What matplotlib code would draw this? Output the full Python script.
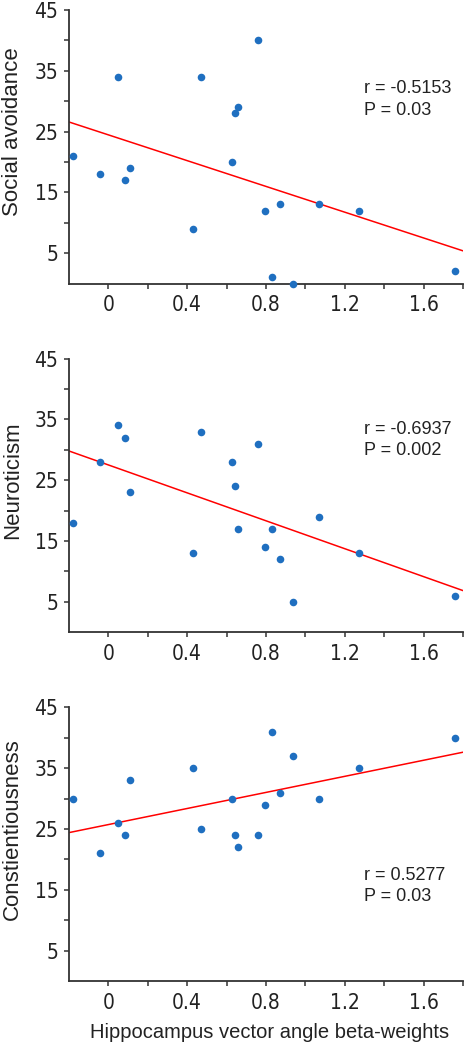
import numpy as np
import matplotlib
matplotlib.use("Agg")
import matplotlib.pyplot as plt
from matplotlib import font_manager

# hippocampus vector angle beta-weights (same subjects in every panel)
beta = [-0.178, -0.041, 0.051, 0.083, 0.112, 0.430, 0.469, 0.626, 0.642,
        0.659, 0.760, 0.796, 0.830, 0.872, 0.936, 1.068, 1.272, 1.761]
social = [21, 18, 34, 17, 19, 9, 34, 20, 28, 29, 40, 12, 1, 13, 0, 13, 12, 2]
neuro = [18, 28, 34, 32, 23, 13, 33, 28, 24, 17, 31, 14, 17, 12, 5, 19, 13, 6]
consc = [30, 21, 26, 24, 33, 35, 25, 30, 24, 22, 24, 29, 41, 31, 37, 30, 35, 40]

ylabels = ["Social avoidance", "Neuroticism", "Constientiousness"]
stats = ["r = -0.5153\nP = 0.03", "r = -0.6937\nP = 0.002", "r = 0.5277\nP = 0.03"]
stat_y = [30.3, 31.6, 15.6]

# pick an upright narrow face for the tick numbers if one is around
narrow = None
for f in font_manager.fontManager.ttflist:
    if f.style != "normal" or f.weight not in (400, "normal", "regular"):
        continue
    if "Narrow" in f.name or "Condensed" in f.name or f.stretch in ("condensed", "semi-condensed"):
        narrow = font_manager.FontProperties(fname=f.fname)
        break
if narrow is None:
    narrow = font_manager.FontProperties(family="Liberation Sans")

plt.rcParams['font.family'] = ['Liberation Sans', 'DejaVu Sans']

fig = plt.figure(figsize=(4.66, 10.5), dpi=100)
bottoms = [0.730, 0.398, 0.0657]
axc = "#333333"

for i, yvals in enumerate([social, neuro, consc]):
    ax = fig.add_axes([0.148, bottoms[i], 0.8455, 0.2605])
    x = np.array(beta)
    y = np.array(yvals)
    ax.scatter(x, y, s=30, color="#1f6fc0", zorder=3, clip_on=False, linewidths=0)
    k, b = np.polyfit(x, y, 1)
    xx = np.array([-0.2, 1.8])
    ax.plot(xx, k * xx + b, color="red", lw=1.1, zorder=2)

    ax.set_xlim(-0.2, 1.8)
    ax.set_ylim(0, 45)
    ax.spines['top'].set_visible(False)
    ax.spines['right'].set_visible(False)
    for s in ['left', 'bottom']:
        ax.spines[s].set_color(axc)
        ax.spines[s].set_linewidth(1.3)

    ax.set_xticks(np.arange(0, 1.81, 0.2))
    ax.set_xticklabels(["0", "", "0.4", "", "0.8", "", "1.2", "", "1.6", ""])
    ax.set_yticks(np.arange(5, 46, 5))
    ax.set_yticklabels(["5", "", "15", "", "25", "", "35", "", "45"])
    ax.tick_params(direction='out', length=3.6, width=1.1, color=axc,
                   labelcolor="#222222")
    ax.tick_params(axis='x', pad=5)
    ax.tick_params(axis='y', pad=4)
    for lab in ax.get_xticklabels() + ax.get_yticklabels():
        lab.set_fontproperties(narrow)
        lab.set_fontsize(15)

    ax.set_ylabel(ylabels[i], fontsize=16, color="#222222")
    ax.yaxis.set_label_coords(-0.117, 0.555)
    ax.text(1.3, stat_y[i], stats[i], fontsize=13, va='center', ha='left',
            color="#222222", linespacing=1.35)

    if i == 2:
        ax.set_xlabel("Hippocampus vector angle beta-weights", fontsize=14.5,
                      color="#222222")
        ax.xaxis.set_label_coords(0.51, -0.155)

fig.savefig("out.png", dpi=100)
